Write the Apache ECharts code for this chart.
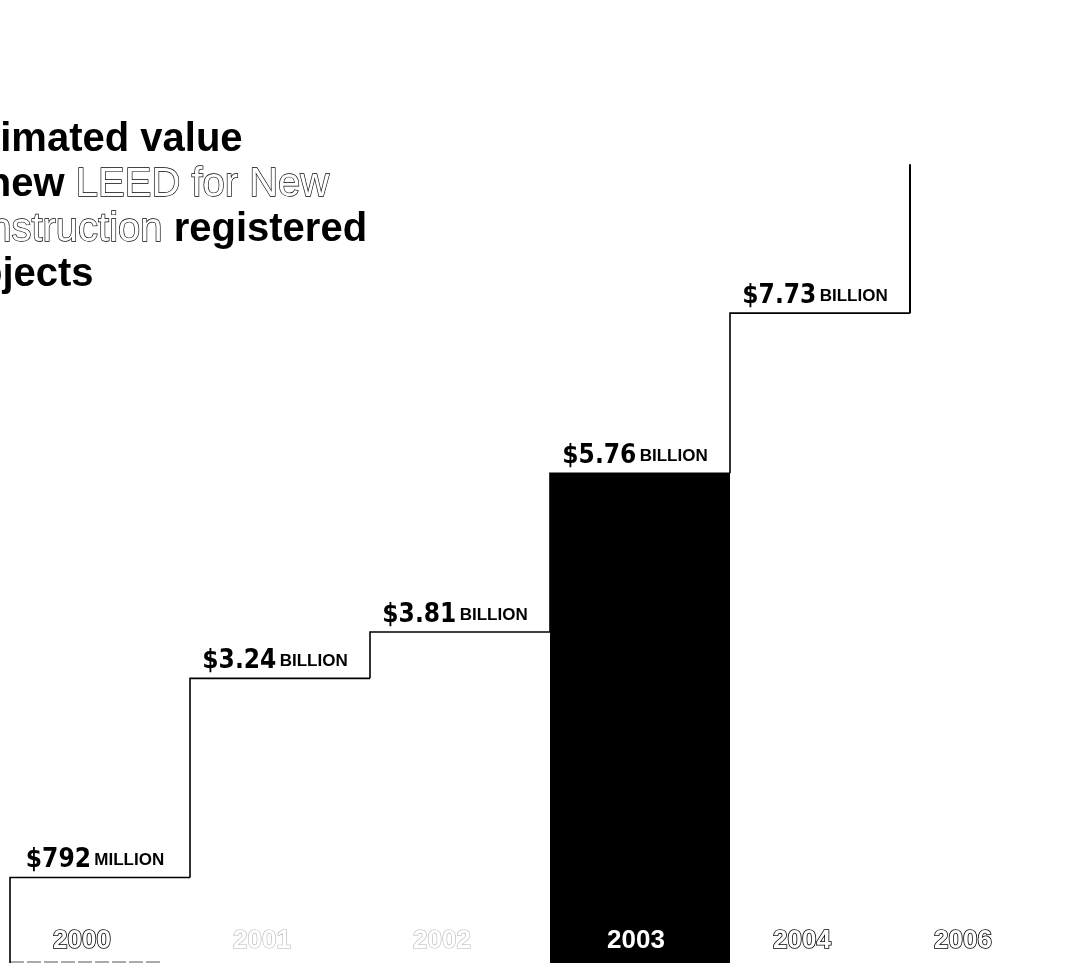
<!DOCTYPE html>
<html>
<head>
<meta charset="utf-8">
<script src="https://cdn.jsdelivr.net/npm/echarts@6/dist/echarts.min.js"></script>
<style>
html,body{margin:0;padding:0;background:#fff;}
#chart{width:1082px;height:964px;}
</style>
</head>
<body>
<div id="chart"></div>
<script>
const years = ['2000', '2001', '2002', '2003', '2004', '2006'];
const values = [0.792, 3.24, 3.81, 5.76, 7.73, 9.56];
const amountLabels = ['$792', '$3.24', '$3.81', '$5.76', '$7.73', ''];
const unitLabels = ['MILLION', 'BILLION', 'BILLION', 'BILLION', 'BILLION', ''];
const highlightIndex = 3;
const fadedYears = ['2001', '2002'];

const Y_MIN = -0.26, Y_MAX = 11.58;

const chart = echarts.init(document.getElementById('chart'));

const yearItems = years.map((y, i) => {
  const base = { padding: [0, 36, 0, 0] };
  if (i === highlightIndex) {
    return { value: y, textStyle: Object.assign(base, { color: '#fff', textBorderWidth: 0, padding: [0, 8, 0, 0] }) };
  }
  if (fadedYears.includes(y)) {
    return { value: y, textStyle: Object.assign(base, { color: '#fff', textBorderColor: '#b5b5b5', textBorderWidth: 1.2 }) };
  }
  if (i === years.length - 1) {
    return { value: y, textStyle: Object.assign(base, { color: '#fff', textBorderColor: '#000', textBorderWidth: 1.6, padding: [0, 74, 0, 0] }) };
  }
  return { value: y, textStyle: Object.assign(base, { color: '#fff', textBorderColor: '#000', textBorderWidth: 1.6 }) };
});

const option = {
  backgroundColor: '#fff',
  animation: false,
  title: {
    text: '{b|Estimated value}\n{b|of new }{o|LEED for New}\n{o|Construction }{b|registered}\n{b|projects}',
    left: -62,
    top: 117,
    padding: 0,
    textStyle: {
      rich: {
        b: { fontFamily: 'Liberation Sans, Arial, sans-serif', fontWeight: 'bold', fontSize: 40, color: '#000', lineHeight: 45 },
        o: { fontFamily: 'Liberation Sans, Arial, sans-serif', fontWeight: 'normal', fontSize: 40, color: '#fff', textBorderColor: '#000', textBorderWidth: 1.3, lineHeight: 45 }
      }
    }
  },
  grid: { left: 10, width: 1080, top: 0, bottom: 1, containLabel: false, outerBoundsMode: 'none' },
  xAxis: {
    type: 'category',
    data: yearItems,
    boundaryGap: true,
    z: 10,
    axisLine: { show: false },
    axisTick: { show: false },
    splitLine: { show: false },
    axisLabel: {
      inside: true,
      margin: 9,
      fontFamily: 'Liberation Sans, Arial, sans-serif',
      fontWeight: 'bold',
      fontSize: 26,
      interval: 0
    }
  },
  yAxis: {
    type: 'value',
    min: Y_MIN,
    max: Y_MAX,
    show: false,
    splitLine: { show: false }
  },
  series: [{
    type: 'custom',
    data: values.map((v, i) => [i, v]),
    encode: { x: 0, y: 1 },
    clip: false,
    renderItem: function (params, api) {
      const i = params.dataIndex;
      const v = api.value(1);
      const prev = i > 0 ? values[i - 1] : Y_MIN;
      const top = api.coord([i, v]);
      const w = api.size([1, 0])[0];
      const x0 = top[0] - w / 2, x1 = top[0] + w / 2;
      const yPrev = api.coord([i, prev])[1];
      const base = api.coord([i, Y_MIN])[1];
      const children = [];
      if (i === highlightIndex) {
        children.push({ type: 'rect', shape: { x: x0, y: top[1], width: w, height: base - top[1] }, style: { fill: '#000' } });
      }
      if (i === 0) {
        children.push({ type: 'line', shape: { x1: x0, y1: base - 1, x2: x1 - 30, y2: base - 1 }, style: { stroke: '#555', lineWidth: 1, lineDash: [14, 3] } });
      }
      const last = i === values.length - 1;
      const pts = last ? [[x0, yPrev], [x0, top[1]]] : [[x0, yPrev], [x0, top[1]], [x1, top[1]]];
      children.push({ type: 'polyline', shape: { points: pts }, style: { stroke: '#000', lineWidth: last ? 2 : 1.6, fill: null } });
      if (amountLabels[i]) {
        children.push({
          type: 'text',
          style: {
            text: '{a|' + amountLabels[i] + '} {u|' + unitLabels[i] + '}',
            x: top[0] - 5,
            y: top[1] - 4,
            align: 'center',
            verticalAlign: 'bottom',
            rich: {
              a: { fontFamily: 'DejaVu Sans Condensed, DejaVu Sans, sans-serif', fontWeight: 'bold', fontSize: 26, fill: '#000', color: '#000' },
              u: { fontFamily: 'Liberation Sans, Arial, sans-serif', fontWeight: 'bold', fontSize: 17, fill: '#000', color: '#000' }
            }
          }
        });
      }
      return { type: 'group', children: children };
    }
  }]
};

chart.setOption(option);
</script>
</body>
</html>
